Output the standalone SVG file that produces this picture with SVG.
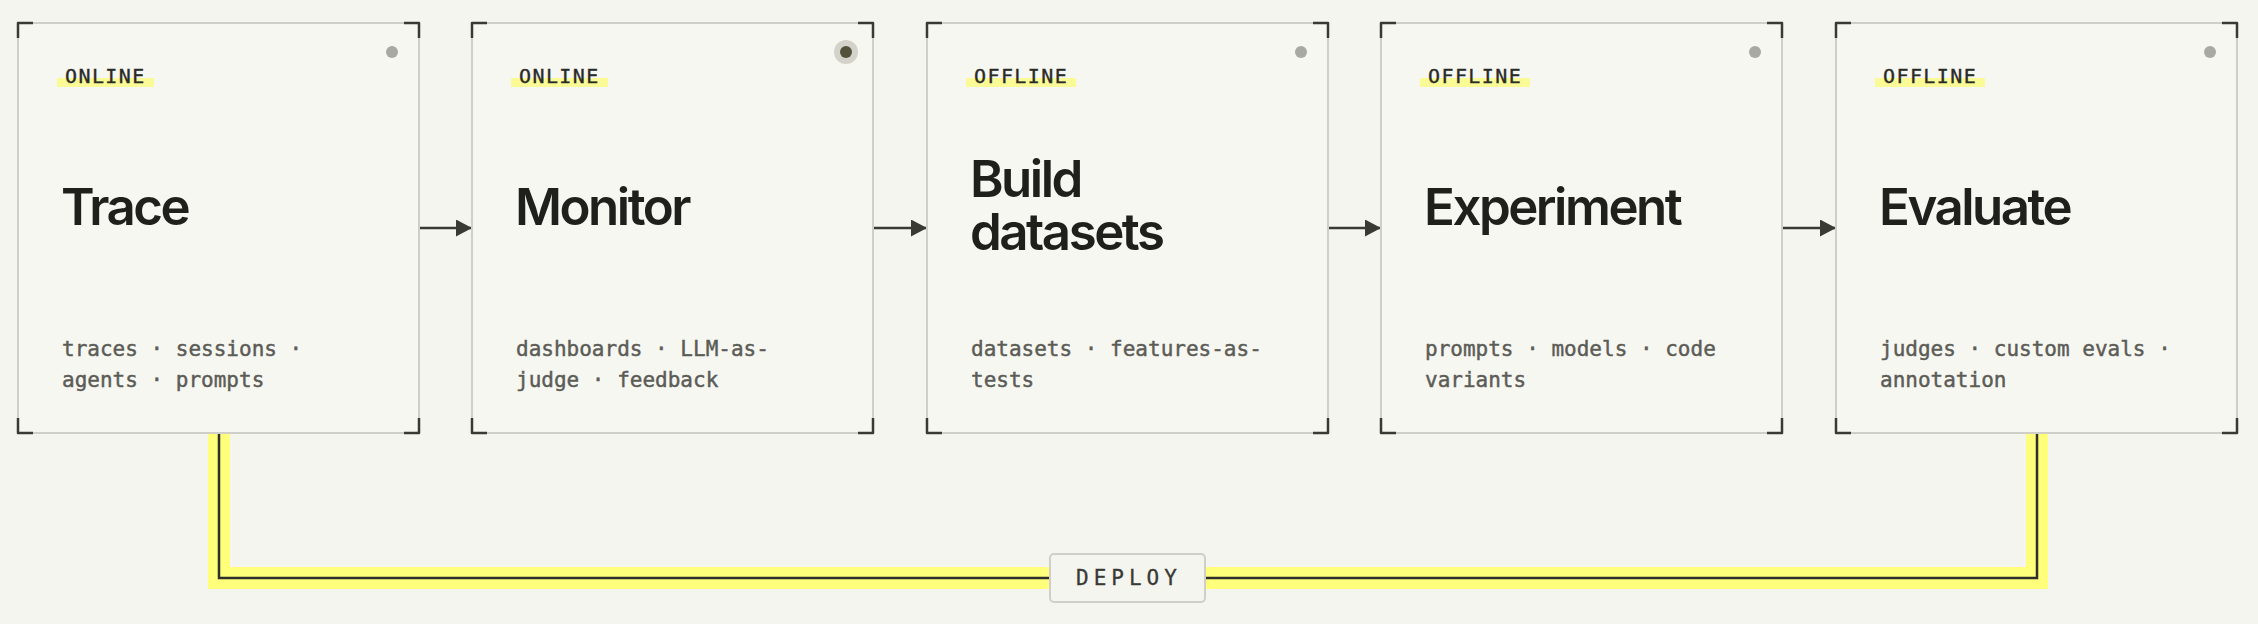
<svg xmlns="http://www.w3.org/2000/svg" width="2258" height="624" viewBox="0 0 2258 624">
<defs>
<style>
.box{fill:#f7f7f2;stroke:#cfcfc8;stroke-width:2}
.br{fill:none;stroke:#3a3a35;stroke-width:2.5;stroke-linejoin:round}
.dot{fill:#a9a9a3}
.hl{fill:#fafa96}
.tag{font-family:"DejaVu Sans Mono","Liberation Mono",monospace;font-size:20px;letter-spacing:1.4px;fill:#2a2a26;stroke:#2a2a26;stroke-width:0.35}
.title{font-family:Inter,"Liberation Sans",sans-serif;font-weight:560;font-size:51px;letter-spacing:-2.5px;fill:#1f1f1c}
.sub{font-family:"DejaVu Sans Mono","Liberation Mono",monospace;font-size:21px;fill:#5c5c57;stroke:#5c5c57;stroke-width:0.45}
.arr{stroke:#3a3a35;stroke-width:2.5;fill:none}
.glow{fill:none;stroke:#ffff7c;stroke-width:22;stroke-linejoin:miter}
.loop{fill:none;stroke:#2e2e2a;stroke-width:2.5;stroke-linejoin:miter}
.pill{fill:#f5f5f0;stroke:#cfcfc8;stroke-width:2}
.deploy{font-family:"DejaVu Sans Mono","Liberation Mono",monospace;font-size:21px;letter-spacing:5px;fill:#3a3a35;stroke:#3a3a35;stroke-width:0.3}
</style>
<marker id="ah" markerUnits="userSpaceOnUse" markerWidth="16" markerHeight="17" refX="16" refY="8.5" orient="auto">
<path d="M0 0 L16 8.5 L0 17 Z" fill="#3a3a35"/>
</marker>
<g id="brackets">
<path class="br" d="M0 15 V0 H15"/>
<path class="br" d="M386 0 H401 V15"/>
<path class="br" d="M0 395 V410 H15"/>
<path class="br" d="M386 410 H401 V395"/>
</g>
</defs>
<rect x="0" y="0" width="2258" height="624" fill="#f5f5f0"/>

<g id="connectors">
<line class="arr" x1="419" y1="228" x2="472" y2="228" marker-end="url(#ah)"/>
<line class="arr" x1="873" y1="228" x2="927" y2="228" marker-end="url(#ah)"/>
<line class="arr" x1="1328" y1="228" x2="1381" y2="228" marker-end="url(#ah)"/>
<line class="arr" x1="1782" y1="228" x2="1836" y2="228" marker-end="url(#ah)"/>
<path class="glow" d="M219 434 V578 H2037 V434"/>
<path class="loop" d="M219 434 V578 H2037 V434"/>
<g id="deploy-label">
<rect class="pill" x="1050" y="554" width="155" height="48" rx="4"/>
<text class="deploy" x="1076" y="585">DEPLOY</text>
</g>
</g>

<g id="node-trace" transform="translate(18,23)">
<rect class="box" x="0" y="0" width="401" height="410"/>
<use href="#brackets"/>
<circle class="dot" cx="374" cy="29" r="6"/>
<rect class="hl" x="39" y="55" width="97" height="9"/>
<text class="tag" x="47" y="60">ONLINE</text>
<text class="title" x="43" y="202">Trace</text>
<text class="sub" x="44" y="333">traces · sessions ·</text>
<text class="sub" x="44" y="364">agents · prompts</text>
</g>

<g id="node-monitor" transform="translate(472,23)">
<rect class="box" x="0" y="0" width="401" height="410"/>
<use href="#brackets"/>
<circle cx="374" cy="29" r="12" fill="#d3d3cb"/>
<circle cx="374" cy="29" r="6" fill="#52523a"/>
<rect class="hl" x="39" y="55" width="97" height="9"/>
<text class="tag" x="47" y="60">ONLINE</text>
<text class="title" x="43" y="202">Monitor</text>
<text class="sub" x="44" y="333">dashboards · LLM-as-</text>
<text class="sub" x="44" y="364">judge · feedback</text>
</g>

<g id="node-build" transform="translate(927,23)">
<rect class="box" x="0" y="0" width="401" height="410"/>
<use href="#brackets"/>
<circle class="dot" cx="374" cy="29" r="6"/>
<rect class="hl" x="39" y="55" width="110" height="9"/>
<text class="tag" x="47" y="60">OFFLINE</text>
<text class="title" x="43" y="174">Build</text>
<text class="title" x="43" y="227">datasets</text>
<text class="sub" x="44" y="333">datasets · features-as-</text>
<text class="sub" x="44" y="364">tests</text>
</g>

<g id="node-experiment" transform="translate(1381,23)">
<rect class="box" x="0" y="0" width="401" height="410"/>
<use href="#brackets"/>
<circle class="dot" cx="374" cy="29" r="6"/>
<rect class="hl" x="39" y="55" width="110" height="9"/>
<text class="tag" x="47" y="60">OFFLINE</text>
<text class="title" x="43" y="202">Experiment</text>
<text class="sub" x="44" y="333">prompts · models · code</text>
<text class="sub" x="44" y="364">variants</text>
</g>

<g id="node-evaluate" transform="translate(1836,23)">
<rect class="box" x="0" y="0" width="401" height="410"/>
<use href="#brackets"/>
<circle class="dot" cx="374" cy="29" r="6"/>
<rect class="hl" x="39" y="55" width="110" height="9"/>
<text class="tag" x="47" y="60">OFFLINE</text>
<text class="title" x="43" y="202">Evaluate</text>
<text class="sub" x="44" y="333">judges · custom evals ·</text>
<text class="sub" x="44" y="364">annotation</text>
</g>
</svg>
